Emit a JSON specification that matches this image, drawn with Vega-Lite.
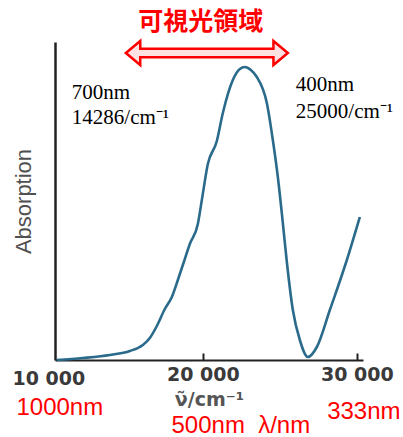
{
  "$schema": "https://vega.github.io/schema/vega-lite/v6.json",
  "autosize": "none",
  "width": 308,
  "height": 318,
  "padding": {"left": 55, "top": 42, "right": 40, "bottom": 77},
  "background": "white",
  "config": {"view": {"stroke": null}},
  "datasets": {
    "curve": [
      {"nu": 10519, "A": 0}, {"nu": 12207, "A": 2}, {"nu": 13961, "A": 5}, {"nu": 15260, "A": 9},
      {"nu": 16104, "A": 15}, {"nu": 16558, "A": 22}, {"nu": 17013, "A": 34}, {"nu": 17532, "A": 51},
      {"nu": 17987, "A": 63}, {"nu": 18377, "A": 80}, {"nu": 18701, "A": 95}, {"nu": 19156, "A": 116},
      {"nu": 19675, "A": 136}, {"nu": 19935, "A": 160}, {"nu": 20325, "A": 196}, {"nu": 20909, "A": 219},
      {"nu": 21299, "A": 247}, {"nu": 21948, "A": 280}, {"nu": 22403, "A": 291}, {"nu": 22727, "A": 293},
      {"nu": 23117, "A": 290}, {"nu": 23507, "A": 283}, {"nu": 24156, "A": 257}, {"nu": 24545, "A": 220},
      {"nu": 24870, "A": 183}, {"nu": 25195, "A": 137}, {"nu": 25455, "A": 98},
      {"nu": 25844, "A": 50}, {"nu": 26299, "A": 20}, {"nu": 26818, "A": 3}, {"nu": 27403, "A": 13},
      {"nu": 28247, "A": 50}, {"nu": 29351, "A": 100}, {"nu": 30195, "A": 143}
    ],
    "blackNotes": [
      {"nu": 11493, "A": 267, "label": "700nm"},
      {"nu": 11493, "A": 242, "label": "14286/cm⁻¹"},
      {"nu": 26039, "A": 275, "label": "400nm"},
      {"nu": 26039, "A": 248, "label": "25000/cm⁻¹"}
    ],
    "redNotes": [
      {"nu": 10714, "A": -48, "label": "1000nm"},
      {"nu": 22468, "A": -66, "label": "500nm\u00a0\u00a0λ/nm"},
      {"nu": 30455, "A": -52, "label": "333nm"}
    ],
    "titleNote": [{"nu": 19870, "A": 338, "label": "可視光領域"}],
    "tick10k": [{"nu": 10000, "A": -19, "label": "10 000"}],
    "shaft": [{"nu": 15779, "nu2": 24740, "A": 307}],
    "shaftInner": [{"nu": 15600, "nu2": 24920, "A": 307}],
    "headLeft": [{"nu": 15779, "A": 307}],
    "headRight": [{"nu": 24740, "A": 307}]
  },
  "layer": [
    {
      "data": {"name": "curve"},
      "mark": {"type": "line", "color": "#2a6a8b", "strokeWidth": 2.6, "interpolate": "monotone", "clip": false},
      "encoding": {
        "x": {
          "field": "nu", "type": "quantitative",
          "scale": {"domain": [10400, 30400], "nice": false, "zero": false},
          "axis": {
            "values": [20000, 30000],
            "labelExpr": "replace(format(datum.value, ','), ',', ' ')",
            "title": "ν̃/cm⁻¹",
            "titleFont": "DejaVu Sans", "titleFontWeight": "bold", "titleFontSize": 19, "titleColor": "#555",
            "titlePadding": 6,
            "labelFont": "DejaVu Sans", "labelFontWeight": "bold", "labelFontSize": 19, "labelColor": "#3a3a3a",
            "labelPadding": 12,
            "domainColor": "#222", "domainWidth": 2,
            "tickColor": "#222", "tickWidth": 2, "tickSize": -7,
            "grid": false
          }
        },
        "y": {
          "field": "A", "type": "quantitative",
          "scale": {"domain": [0, 318], "nice": false},
          "axis": {
            "ticks": false, "labels": false, "grid": false,
            "domainColor": "#222", "domainWidth": 2.5,
            "title": "Absorption",
            "titleFont": "Liberation Sans", "titleFontSize": 22, "titleFontWeight": "normal",
            "titleColor": "#505050", "titlePadding": 20
          }
        }
      }
    },
    {
      "data": {"name": "blackNotes"},
      "mark": {"type": "text", "font": "Liberation Serif", "fontSize": 21, "color": "black", "align": "left", "baseline": "middle", "clip": false},
      "encoding": {
        "x": {"field": "nu", "type": "quantitative"},
        "y": {"field": "A", "type": "quantitative"},
        "text": {"field": "label"}
      }
    },
    {
      "data": {"name": "redNotes"},
      "mark": {"type": "text", "font": "Liberation Sans", "fontSize": 24, "color": "#ff0000", "align": "center", "baseline": "middle", "clip": false},
      "encoding": {
        "x": {"field": "nu", "type": "quantitative"},
        "y": {"field": "A", "type": "quantitative"},
        "text": {"field": "label"}
      }
    },
    {
      "data": {"name": "titleNote"},
      "mark": {"type": "text", "font": "Noto Sans CJK JP", "fontSize": 25, "fontWeight": "bold", "color": "#ff0000", "align": "center", "baseline": "middle", "clip": false},
      "encoding": {
        "x": {"field": "nu", "type": "quantitative"},
        "y": {"field": "A", "type": "quantitative"},
        "text": {"field": "label"}
      }
    },
    {
      "data": {"name": "tick10k"},
      "mark": {"type": "text", "font": "DejaVu Sans", "fontSize": 19, "fontWeight": "bold", "color": "#3a3a3a", "align": "center", "baseline": "middle", "clip": false},
      "encoding": {
        "x": {"field": "nu", "type": "quantitative"},
        "y": {"field": "A", "type": "quantitative"},
        "text": {"field": "label"}
      }
    },
    {
      "data": {"name": "shaft"},
      "mark": {"type": "rule", "color": "#ff0000", "strokeWidth": 11, "strokeCap": "butt", "clip": false},
      "encoding": {
        "x": {"field": "nu", "type": "quantitative"},
        "x2": {"field": "nu2"},
        "y": {"field": "A", "type": "quantitative"}
      }
    },
    {
      "data": {"name": "headLeft"},
      "mark": {"type": "point", "shape": "M-1,0L0.2,-1L0.2,1Z", "size": 576, "filled": true, "fill": "#ffe2e2", "stroke": "#ff0000", "strokeWidth": 2.5, "opacity": 1, "clip": false},
      "encoding": {
        "x": {"field": "nu", "type": "quantitative"},
        "y": {"field": "A", "type": "quantitative"}
      }
    },
    {
      "data": {"name": "headRight"},
      "mark": {"type": "point", "shape": "M1,0L-0.2,-1L-0.2,1Z", "size": 576, "filled": true, "fill": "#ffe2e2", "stroke": "#ff0000", "strokeWidth": 2.5, "opacity": 1, "clip": false},
      "encoding": {
        "x": {"field": "nu", "type": "quantitative"},
        "y": {"field": "A", "type": "quantitative"}
      }
    },
    {
      "data": {"name": "shaftInner"},
      "mark": {"type": "rule", "color": "#ffe2e2", "strokeWidth": 6, "strokeCap": "butt", "clip": false},
      "encoding": {
        "x": {"field": "nu", "type": "quantitative"},
        "x2": {"field": "nu2"},
        "y": {"field": "A", "type": "quantitative"}
      }
    }
  ]
}
